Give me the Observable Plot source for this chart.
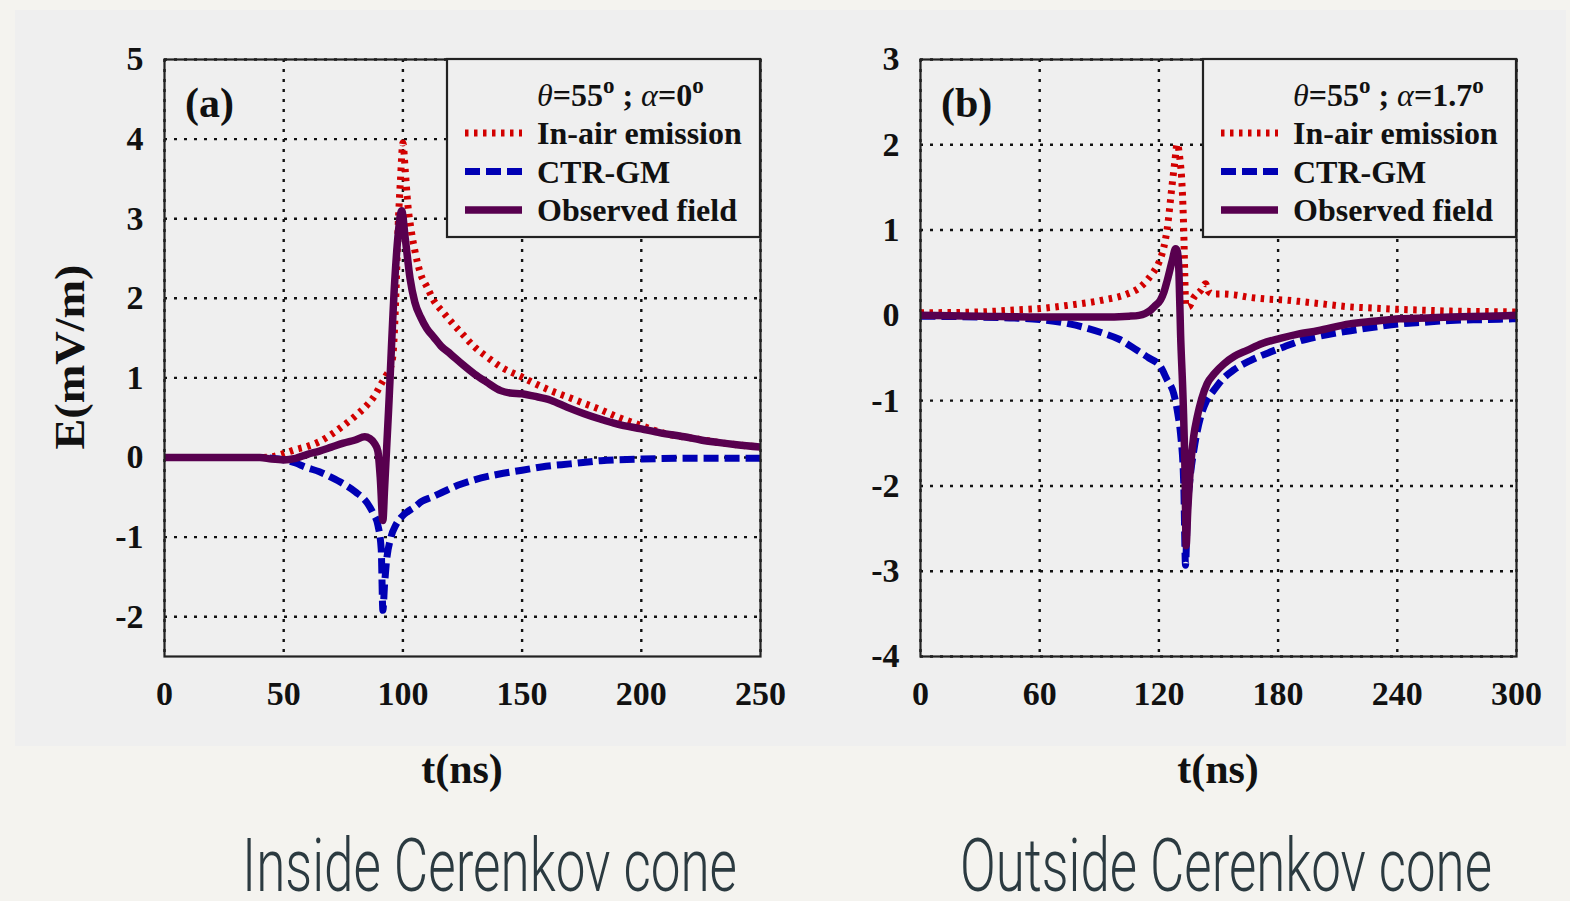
<!DOCTYPE html>
<html><head><meta charset="utf-8">
<script src="https://cdn.jsdelivr.net/npm/d3@7"></script>
<script src="https://cdn.jsdelivr.net/npm/@observablehq/plot@0.6"></script>
<style>
html,body{margin:0;padding:0;background:#f4f3ef;width:1570px;height:901px;overflow:hidden;}
#panel{position:absolute;left:15px;top:10px;width:1551px;height:736px;background:#efefef;}
#wrap{position:absolute;left:0;top:0;width:1570px;height:901px;}
#wrap svg{position:absolute;left:0;top:0;overflow:visible;}
</style></head><body>
<div id="panel"></div><div id="wrap"></div>
<script>
// ---------- tick values ----------
const ticksAx = [0, 50, 100, 150, 200, 250];
const ticksAy = [-2, -1, 0, 1, 2, 3, 4, 5];
const ticksBx = [0, 60, 120, 180, 240, 300];
const ticksBy = [-4, -3, -2, -1, 0, 1, 2, 3];
const seriesNames = ["In-air emission", "CTR-GM", "Observed field"];
const captions = ["Inside Cerenkov cone", "Outside Cerenkov cone"];
const panelTags = ["(a)", "(b)"];
const alphaValues = ["0", "1.7"];

// ---------- panel (a): [t (ns), E (mV/m)] ----------
const aAir = [[0,0],[20,0],[40,0],[45,0.01],[50,0.05],[55,0.10],[60,0.14],[65,0.20],[70,0.29],[75,0.40],[80,0.52],[85,0.66],[88,0.77],[91,0.93],[93,1.03],[95,1.15],[96,1.35],[97,2.0],[98,2.9],[99,3.5],[100,3.95],[101,3.6],[102,3.2],[103.5,2.85],[105,2.6],[107.5,2.3],[110,2.15],[113,1.97],[117,1.82],[121,1.68],[125,1.55],[130,1.39],[135,1.27],[141,1.14],[150,1.01],[156,0.92],[162,0.84],[170,0.75],[176,0.68],[183,0.60],[190,0.51],[200,0.40],[210,0.30],[220,0.25],[230,0.20],[240,0.16],[250,0.13]];
const aCtr = [[0,0],[40,0],[45,-0.01],[50,-0.03],[55,-0.07],[59,-0.12],[65,-0.18],[70,-0.25],[75,-0.33],[80,-0.43],[85,-0.57],[87.5,-0.7],[89.5,-0.85],[90.9,-1.15],[91.6,-1.92],[92.3,-1.6],[93,-1.34],[95,-1.0],[97,-0.85],[99.3,-0.75],[102,-0.68],[105,-0.62],[108,-0.55],[112,-0.5],[117,-0.43],[123,-0.35],[130,-0.28],[140,-0.21],[150,-0.16],[160,-0.11],[170,-0.08],[183,-0.04],[200,-0.02],[220,-0.01],[250,-0.01]];
const aObs = [[0,0],[40,0],[45,-0.02],[50,-0.03],[55,-0.01],[60,0.04],[65,0.08],[70,0.13],[75,0.18],[80,0.22],[84,0.26],[86,0.24],[88,0.18],[89.5,0.08],[90.5,-0.25],[91.6,-0.79],[92.3,-0.4],[94,0.6],[96.6,2.23],[98,2.8],[99.5,3.1],[101,2.75],[103,2.25],[105,1.95],[107.5,1.76],[110,1.62],[113,1.51],[116,1.40],[120,1.30],[125,1.17],[130,1.05],[135,0.95],[141,0.84],[145,0.81],[150,0.80],[155,0.77],[162,0.72],[169,0.63],[176,0.55],[183,0.48],[190,0.42],[200,0.36],[208,0.31],[218,0.26],[225,0.22],[232,0.19],[240,0.16],[250,0.13]];

// ---------- panel (b) ----------
const bAir = [[0,0.03],[30,0.04],[45,0.06],[60,0.08],[75,0.12],[92,0.18],[104,0.25],[110,0.32],[114,0.41],[117,0.5],[119,0.57],[121,0.68],[122.5,0.8],[124.2,1.02],[126.7,1.54],[128,1.8],[129.2,2.01],[130.5,1.85],[131.7,1.5],[132.5,1.0],[133,0.5],[133.5,0.12],[135,0.1],[137.6,0.21],[141,0.29],[143.5,0.37],[145,0.28],[147.6,0.25],[152,0.25],[158,0.24],[166,0.21],[175,0.19],[183,0.18],[192,0.16],[200,0.14],[216,0.10],[228,0.085],[241,0.07],[254,0.06],[267,0.05],[283,0.045],[300,0.04]];
const bCtr = [[0,-0.01],[30,-0.02],[45,-0.03],[60,-0.05],[75,-0.1],[92,-0.21],[100,-0.28],[109,-0.41],[115,-0.5],[120.8,-0.6],[124,-0.75],[127.5,-0.92],[129.5,-1.15],[130.9,-1.39],[132.5,-1.97],[133.4,-2.93],[134.3,-2.3],[135.5,-1.95],[137.6,-1.58],[141,-1.19],[144,-1.0],[147.6,-0.88],[152,-0.75],[157.7,-0.64],[166,-0.53],[175,-0.44],[182.9,-0.37],[191,-0.3],[199.7,-0.25],[216.5,-0.18],[228,-0.14],[240.9,-0.10],[254,-0.08],[266.8,-0.06],[283,-0.05],[300,-0.04]];
const bObs = [[0,0],[30,-0.01],[60,-0.02],[90,-0.02],[105,-0.01],[110,0],[113,0.02],[115.8,0.06],[118,0.11],[120.8,0.18],[122.5,0.27],[124.2,0.41],[126.7,0.64],[128.4,0.78],[129.3,0.75],[130.1,0.5],[130.9,-0.21],[132.2,-1.0],[133.2,-1.9],[133.7,-2.7],[134.5,-2.3],[135.9,-1.78],[137.5,-1.42],[139.3,-1.19],[141.5,-0.98],[144.3,-0.80],[148,-0.68],[152.7,-0.57],[158,-0.48],[164.4,-0.41],[172,-0.33],[181,-0.27],[190,-0.22],[200,-0.18],[216,-0.10],[228,-0.07],[241,-0.04],[255,-0.03],[267,-0.02],[285,-0.01],[300,0]];

const rows = p => p.map(([t, v]) => ({t, v}));
const serif = "'Liberation Serif','Times New Roman',serif";
const styles = [
  {stroke: "#d20000", strokeWidth: 7, strokeDasharray: "3.5,5.5", strokeLinecap: "butt"},
  {stroke: "#0000b4", strokeWidth: 7, strokeDasharray: "15,6", strokeLinecap: "butt"},
  {stroke: "#58004f", strokeWidth: 7.5, strokeLinecap: "round"}
];

function panel(cfg) {
  const grid = {stroke: "#111", strokeOpacity: 1, strokeWidth: 2.4, strokeDasharray: "3,7"};
  const svg = Plot.plot({
    width: 1570, height: 901,
    marginLeft: cfg.ml, marginRight: cfg.mr, marginTop: 59, marginBottom: 245,
    style: {background: "transparent", overflow: "visible", fontFamily: serif, color: "#111"},
    x: {domain: cfg.xd}, y: {domain: cfg.yd},
    marks: [
      Plot.gridX(cfg.xt, grid),
      Plot.gridY(cfg.yt, grid),
      Plot.axisX(cfg.xt, {tickSize: 0, tickPadding: 24, fontSize: 34, fontWeight: "bold", label: null, tickFormat: d => String(d)}),
      Plot.axisY(cfg.yt, {tickSize: 0, tickPadding: 21, fontSize: 34, fontWeight: "bold", label: null, tickFormat: d => String(d)}),
      Plot.line(rows(cfg.air), {x: "t", y: "v", curve: "monotone-x", clip: true, ...styles[0]}),
      Plot.line(rows(cfg.ctr), {x: "t", y: "v", curve: "monotone-x", clip: true, ...styles[1]}),
      Plot.line(rows(cfg.obs), {x: "t", y: "v", curve: "monotone-x", clip: true, ...styles[2]}),
      Plot.frame({stroke: "#222", strokeWidth: 2.2})
    ]
  });
  const s = d3.select(svg);
  const L = cfg.ml, R = 1570 - cfg.mr;
  // legend box
  const g = s.append("g").attr("font-family", serif).attr("font-weight", "bold").attr("fill", "#111")
    .attr("text-anchor", "start");
  const bx = R - 313;
  g.append("rect").attr("x", bx).attr("y", 59).attr("width", 313).attr("height", 178)
    .attr("fill", "#efefef").attr("stroke", "#222").attr("stroke-width", 2.2);
  const hx = bx + 90;
  const h = g.append("text").attr("x", hx).attr("y", 106).attr("font-size", 32).attr("text-anchor", "start");
  h.append("tspan").attr("font-style", "italic").attr("font-weight", "normal").text("θ");
  h.append("tspan").text("=55");
  h.append("tspan").attr("font-size", 23).attr("dy", -13).text("o");
  h.append("tspan").attr("dy", 13).text(" ; ");
  h.append("tspan").attr("font-style", "italic").attr("font-weight", "normal").text("α");
  h.append("tspan").text("=" + cfg.alpha);
  h.append("tspan").attr("font-size", 23).attr("dy", -13).text("o");
  seriesNames.forEach((name, i) => {
    const y = 133 + i * 38.5;
    const st = styles[i];
    g.append("line").attr("x1", bx + 18).attr("x2", bx + 75).attr("y1", y).attr("y2", y)
      .attr("stroke", st.stroke).attr("stroke-width", st.strokeWidth)
      .attr("stroke-dasharray", st.strokeDasharray || null).attr("stroke-linecap", "butt");
    g.append("text").attr("x", hx).attr("y", y + 11).attr("font-size", 32).attr("text-anchor", "start").text(name);
  });
  // panel tag
  g.append("text").attr("x", L + 21).attr("y", 117).attr("font-size", 42).attr("text-anchor", "start").text(cfg.tag);
  // x label
  g.append("text").attr("x", (L + R) / 2).attr("y", 783).attr("text-anchor", "middle")
    .attr("font-size", 42).text("t(ns)");
  if (cfg.ylabel) {
    g.append("text").attr("transform", "translate(84,357) rotate(-90)").attr("text-anchor", "middle")
      .attr("font-size", 42).attr("textLength", 185).attr("lengthAdjust", "spacingAndGlyphs").text("E(mV/m)");
  }
  // caption
  s.append("text").attr("x", cfg.capX).attr("y", 891).attr("text-anchor", "start")
    .attr("font-family", "Roboto, 'Open Sans', sans-serif")
    .attr("font-weight", 300).attr("font-size", 75).attr("fill", "#2b3a40")
    .attr("textLength", cfg.capW).attr("lengthAdjust", "spacingAndGlyphs").text(cfg.caption);
  return svg;
}

const wrap = document.getElementById("wrap");
wrap.append(panel({ml: 164, mr: 810, xd: [0, 250], yd: [-2.5, 5], xt: ticksAx, yt: ticksAy,
  air: aAir, ctr: aCtr, obs: aObs, alpha: alphaValues[0], tag: panelTags[0], ylabel: true,
  caption: captions[0], capX: 242, capW: 495}));
wrap.append(panel({ml: 920, mr: 54, xd: [0, 300], yd: [-4, 3], xt: ticksBx, yt: ticksBy,
  air: bAir, ctr: bCtr, obs: bObs, alpha: alphaValues[1], tag: panelTags[1], ylabel: false,
  caption: captions[1], capX: 960, capW: 532}));
</script></body></html>
